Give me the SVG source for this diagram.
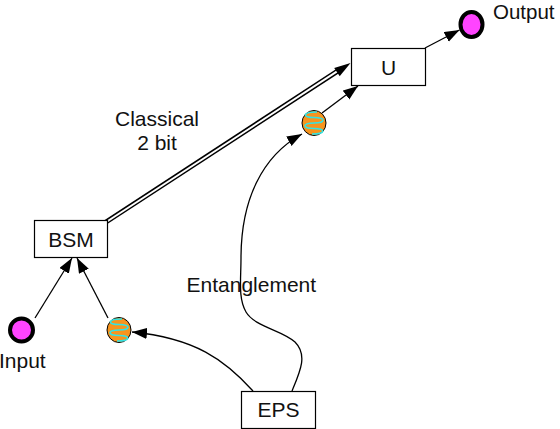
<svg xmlns="http://www.w3.org/2000/svg" xmlns:xlink="http://www.w3.org/1999/xlink" width="560" height="429" viewBox="0 0 560 429">
<style>
  .box { fill: #fff; stroke: #000; stroke-width: 1.2; }
  .lbl { font-family: "Liberation Sans", Arial, sans-serif; font-size: 21px; fill: #111; }
  .mid { text-anchor: middle; }
  .qubit { fill: #ff44ff; stroke: #000; stroke-width: 4; }
  .wire { fill: none; stroke: #000; stroke-width: 1.3; }
</style>
<defs>
  <marker id="ah" markerUnits="userSpaceOnUse" markerWidth="16" markerHeight="12" refX="15" refY="5.5" orient="auto">
    <path d="M0,0 L15,5.5 L0,11 z" fill="#000"/>
  </marker>
  <g id="orb">
    <ellipse cx="0" cy="0" rx="12" ry="12.5" fill="#f7941d" stroke="#000" stroke-width="1"/>
    <path d="M3,-11 C-12,-11 -12,-5.5 0,-5.5 C12,-5.5 12,0 0,0 C-12,0 -12,5.5 0,5.5 C12,5.5 12,11 -2,11" fill="none" stroke="#33e3e3" stroke-width="1.6"/>
  </g>
</defs>

<g id="connectors">
  <!-- classical double line BSM -> U -->
  <line x1="106" y1="222" x2="338" y2="70.8" stroke="#000" stroke-width="5"/>
  <line x1="104" y1="223.5" x2="339" y2="70.2" stroke="#fff" stroke-width="2"/>
  <path d="M350.5,63 L334.2,67.9 L339.7,76.3 z" fill="#000"/>
  <!-- U -> Output -->
  <line class="wire" x1="425" y1="48" x2="459.5" y2="30" marker-end="url(#ah)"/>
  <!-- orb1 -> U -->
  <line class="wire" x1="322" y1="113" x2="358" y2="86" marker-end="url(#ah)"/>
  <!-- EPS -> orb1 -->
  <path class="wire" d="M292,391 C300,372 308,355 295,342 C282,330 255,327 246,312 C238,298 241,280 241,258 C241,200 262,156 302,134" marker-end="url(#ah)"/>
  <!-- EPS -> orb2 -->
  <path class="wire" d="M253,391 C225,360 195,338 132,332" marker-end="url(#ah)"/>
  <!-- Input -> BSM -->
  <line class="wire" x1="35" y1="318" x2="72" y2="258" marker-end="url(#ah)"/>
  <!-- orb2 -> BSM -->
  <line class="wire" x1="108" y1="318" x2="77" y2="258" marker-end="url(#ah)"/>
</g>

<g id="node-U">
  <rect class="box" x="351.5" y="48.5" width="74" height="37"/>
  <text class="lbl mid" x="388.5" y="75">U</text>
</g>
<g id="node-BSM">
  <rect class="box" x="34.5" y="220.5" width="73" height="37"/>
  <text class="lbl mid" x="71" y="246.5">BSM</text>
</g>
<g id="node-EPS">
  <rect class="box" x="241.5" y="391.5" width="74" height="37"/>
  <text class="lbl mid" x="278.5" y="416.5">EPS</text>
</g>
<g id="node-output">
  <ellipse class="qubit" cx="471.5" cy="24.5" rx="11" ry="12.5"/>
  <text class="lbl" x="493" y="18.5" style="font-size:20.5px">Output</text>
</g>
<g id="node-input">
  <ellipse class="qubit" cx="21.5" cy="330" rx="11.5" ry="11.5"/>
  <text class="lbl" x="-1" y="368">Input</text>
</g>
<g id="node-orb1">
  <use xlink:href="#orb" href="#orb" x="314" y="123"/>
</g>
<g id="node-orb2">
  <use xlink:href="#orb" href="#orb" x="119" y="330"/>
</g>
<g id="label-classical">
  <text class="lbl mid" x="157" y="126">Classical</text>
  <text class="lbl mid" x="157" y="150">2 bit</text>
</g>
<g id="label-entanglement">
  <text class="lbl" x="186.5" y="291.5">Entanglement</text>
</g>
</svg>
